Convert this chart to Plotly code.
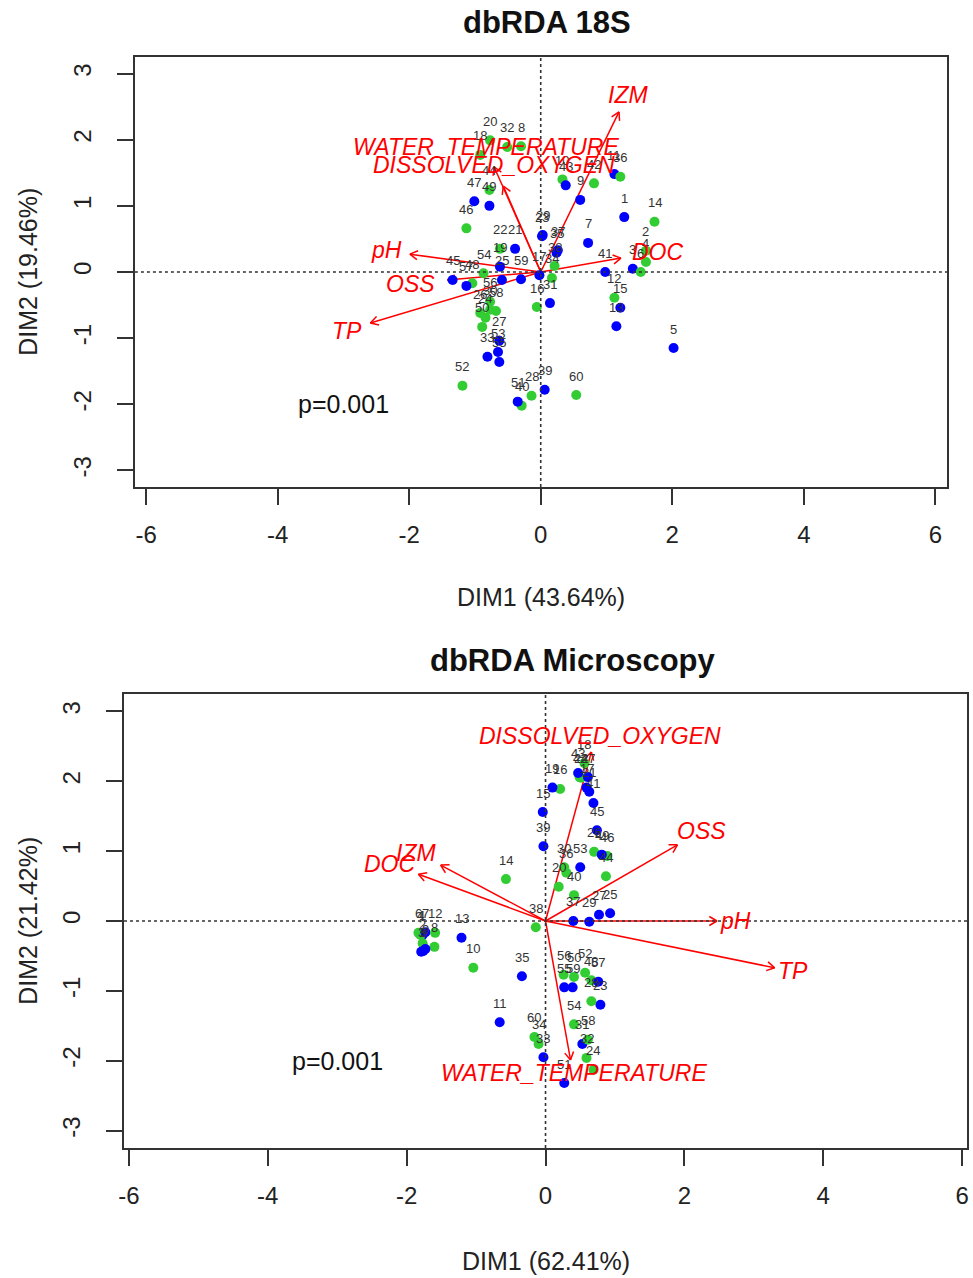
import math
import plotly.graph_objects as go

W, H = 973, 1278

# ---------------- data ----------------
sample_labels = ["1", "2", "3", "4", "5", "6", "7", "8", "9", "10",
                 "11", "12", "13", "14", "15", "16", "17", "18", "19", "20",
                 "21", "22", "23", "24", "25", "26", "27", "28", "29", "30",
                 "31", "32", "33", "34", "35", "36", "37", "38", "39", "40",
                 "41", "42", "43", "44", "45", "46", "47", "48", "49", "50",
                 "51", "52", "53", "54", "55", "56", "57", "58", "59", "60"]
sample_group = ["A", "B", "A", "B", "A", "B", "A", "B", "A", "B",
                "A", "B", "A", "B", "A", "B", "A", "B", "A", "B",
                "A", "B", "A", "B", "A", "B", "A", "B", "A", "B",
                "A", "B", "A", "B", "A", "B", "A", "B", "A", "B",
                "A", "B", "A", "B", "A", "B", "A", "B", "A", "B",
                "A", "B", "A", "B", "A", "B", "A", "B", "A", "B"]

# dbRDA 18S site scores
s18_x = [1.27, 1.60, 1.40, 1.60, 2.02, 1.52, 0.72, -0.30, 0.60, 0.33,
         1.12, 1.12, 1.15, 1.73, 1.21, -0.06, -0.02, -0.92, -0.62, -0.77,
         -0.39, -0.62, 0.02, -0.84, -0.59, -0.92, -0.63, -0.14, 0.03, -0.77,
         0.14, -0.51, -0.81, 0.17, 0.24, 1.21, 0.26, 0.21, 0.06, -0.29,
         0.98, 0.81, 0.38, -0.78, -1.34, -1.13, -1.01, -1.04, -0.78, -0.89,
         -0.35, -1.19, -0.65, -0.87, -0.63, -0.77, -1.13, -0.68, -0.30, 0.54]
s18_y = [0.83, 0.32, 0.05, 0.15, -1.15, 0.00, 0.44, 1.90, 1.09, 1.40,
         1.48, -0.39, -0.82, 0.76, -0.54, -0.53, -0.05, 1.77, 0.08, 1.99,
         0.35, 0.35, 0.54, -0.69, -0.12, -0.62, -1.04, -1.87, 0.56, -0.57,
         -0.47, 1.89, -1.28, -0.09, 0.29, 1.44, 0.33, 0.09, -1.78, -2.02,
         0.00, 1.34, 1.31, 1.24, -0.12, 0.66, 1.07, -0.17, 1.00, -0.83,
         -1.96, -1.72, -1.21, -0.02, -1.36, -0.45, -0.21, -0.59, -0.11, -1.86]

# dbRDA Microscopy site scores
mic_x = [-1.77, -1.77, -1.79, -1.80, -1.76, -1.83, -1.73, -1.60, -1.73, -1.04,
         -0.66, -1.59, -1.21, -0.57, -0.04, 0.21, 0.59, 0.56, 0.10, 0.19,
         0.63, 0.51, 0.79, 0.69, 0.93, 0.70, 0.77, 0.66, 0.63, 0.27,
         0.53, 0.59, -0.03, -0.10, -0.34, 0.30, 0.40, -0.14, -0.03, 0.41,
         0.69, 0.49, 0.47, 0.87, 0.74, 0.89, 0.61, 0.66, 0.81, 0.41,
         0.27, 0.57, 0.50, 0.41, 0.27, 0.26, 0.76, 0.61, 0.39, -0.16]
mic_y = [-0.20, -0.32, -0.44, -0.20, -0.43, -0.17, -0.16, -0.37, -0.40, -0.67,
         -1.45, -0.17, -0.24, 0.60, 1.56, 1.89, 1.91, 2.26, 1.91, 0.49,
         1.85, 2.05, -1.20, -2.13, 0.11, 0.99, 0.09, -1.15, -0.01, 0.77,
         -1.76, -1.96, -1.95, -1.76, -0.79, 0.69, 0.00, -0.09, 1.07, 0.37,
         1.69, 2.06, 2.12, 0.64, 1.30, 0.93, 2.06, -0.85, 0.95, -0.80,
         -2.32, -0.74, 0.77, -1.48, -0.95, -0.77, -0.87, -1.70, -0.95, -1.66]

# environmental arrows
s18_vars = ["IZM", "WATER_TEMPERATURE", "DISSOLVED_OXYGEN", "pH", "OSS", "TP", "DOC"]
s18_arrow_x = [1.19, -0.71, -0.57, -1.99, -1.42, -2.59, 1.22]
s18_arrow_y = [2.42, 1.59, 1.30, 0.27, -0.12, -0.77, 0.21]
s18_label_x = [1.33, -0.83, -0.71, -2.35, -1.98, -2.94, 1.79]
s18_label_y = [2.67, 1.89, 1.62, 0.33, -0.18, -0.89, 0.30]

mic_vars = ["DISSOLVED_OXYGEN", "OSS", "pH", "TP", "WATER_TEMPERATURE", "IZM", "DOC"]
mic_arrow_x = [0.66, 1.90, 2.47, 3.30, 0.36, -1.51, -1.83]
mic_arrow_y = [2.42, 1.09, 0.00, -0.67, -1.99, 0.80, 0.67]
mic_label_x = [0.79, 2.24, 2.74, 3.57, 0.41, -1.86, -2.24]
mic_label_y = [2.65, 1.29, 0.00, -0.72, -2.18, 0.97, 0.82]

tick_vals = [-6, -4, -2, 0, 2, 4, 6]
tick_text = ["-6", "-4", "-2", "0", "2", "4", "6"]
ytick_vals = [-3, -2, -1, 0, 1, 2, 3]
ytick_text = ["-3", "-2", "-1", "0", "1", "2", "3"]

panels = [
    dict(title="dbRDA 18S", xlab="DIM1 (43.64%)", ylab="DIM2 (19.46%)", p="p=0.001",
         x=s18_x, y=s18_y, vars=s18_vars, ax=s18_arrow_x, ay=s18_arrow_y,
         lx=s18_label_x, ly=s18_label_y,
         box=(130, 949, 57, 487), xr=(-6.17, 6.18), yr=(-3.25, 3.25),
         title_pos=(545, 22), xlab_pos=(539, 597), ylab_pos=(22, 272)),
    dict(title="dbRDA Microscopy", xlab="DIM1 (62.41%)", ylab="DIM2 (21.42%)", p="p=0.001",
         x=mic_x, y=mic_y, vars=mic_vars, ax=mic_arrow_x, ay=mic_arrow_y,
         lx=mic_label_x, ly=mic_label_y,
         box=(119, 969, 694, 1148), xr=(-6.07, 6.07), yr=(-3.25, 3.25),
         title_pos=(572, 660), xlab_pos=(544, 1261), ylab_pos=(22, 921)),
]

COL = {"A": "#0000FF", "B": "#32CD32"}
FONT = "Liberation Sans, Arial, Helvetica, sans-serif"
RED = "#FF0000"
AX = "#333333"

fig = go.Figure()
annotations = []
shapes = []

for i, pn in enumerate(panels):
    xa = "x" if i == 0 else "x2"
    ya = "y" if i == 0 else "y2"
    xkey = "xaxis" if i == 0 else "xaxis2"
    ykey = "yaxis" if i == 0 else "yaxis2"
    left, right, top, bottom = pn["box"]
    sx = (right - left) / (pn["xr"][1] - pn["xr"][0])
    sy = (bottom - top) / (pn["yr"][1] - pn["yr"][0])

    fig.update_layout(**{
        xkey: dict(domain=[left / W, right / W], range=list(pn["xr"]), anchor=ya,
                   showline=True, mirror=True, linecolor=AX, linewidth=1.5,
                   ticks="outside", ticklen=16, tickwidth=1.5, tickcolor=AX,
                   tickvals=tick_vals, ticktext=tick_text, showgrid=False, zeroline=False,
                   tickfont=dict(family=FONT, size=24, color="#222"), ticklabelstandoff=9),
        ykey: dict(domain=[1 - bottom / H, 1 - top / H], range=list(pn["yr"]), anchor=xa,
                   showline=True, mirror=True, linecolor=AX, linewidth=1.5,
                   ticks="outside", ticklen=16, tickwidth=1.5, tickcolor=AX,
                   tickvals=ytick_vals, ticktext=ytick_text, tickangle=-90,
                   showgrid=False, zeroline=False,
                   tickfont=dict(family=FONT, size=24, color="#222"), ticklabelstandoff=17),
    })

    # dotted zero lines
    xd = ("x domain" if i == 0 else "x2 domain")
    yd = ("y domain" if i == 0 else "y2 domain")
    shapes.append(dict(type="line", xref=xd, yref=ya, x0=0, x1=1, y0=0, y1=0,
                       line=dict(color=AX, width=1.6, dash="dot")))
    shapes.append(dict(type="line", xref=xa, yref=yd, x0=0, x1=0, y0=0, y1=1,
                       line=dict(color=AX, width=1.6, dash="dot")))

    # arrows (open V heads like R)
    ax_l, ay_l = [], []
    head = 9.0
    for tx, ty in zip(pn["ax"], pn["ay"]):
        ang = math.atan2(ty * sy, tx * sx)
        ax_l += [0, tx, None]
        ay_l += [0, ty, None]
        for d in (math.pi / 6, -math.pi / 6):
            a = ang + math.pi + d
            ax_l += [tx, tx + head * math.cos(a) / sx, None]
            ay_l += [ty, ty + head * math.sin(a) / sy, None]
    fig.add_trace(go.Scatter(x=ax_l, y=ay_l, mode="lines", xaxis=xa, yaxis=ya,
                             line=dict(color=RED, width=1.5), hoverinfo="skip",
                             showlegend=False))

    # points
    fig.add_trace(go.Scatter(x=pn["x"], y=pn["y"], mode="markers", xaxis=xa, yaxis=ya,
                             marker=dict(size=10, color=[COL[g] for g in sample_group],
                                         line=dict(width=0)),
                             text=sample_labels, showlegend=False))

    # point labels above points
    for lab, px, py in zip(sample_labels, pn["x"], pn["y"]):
        annotations.append(dict(x=px, y=py, xref=xa, yref=ya, text=lab, showarrow=False,
                                yshift=19, font=dict(family=FONT, size=13, color="#333")))

    # variable labels
    for v, lx, ly in zip(pn["vars"], pn["lx"], pn["ly"]):
        annotations.append(dict(x=lx, y=ly, xref=xa, yref=ya, text="<i>" + v + "</i>",
                                showarrow=False, xanchor="center", yanchor="middle",
                                font=dict(family=FONT, size=23, color=RED)))

    # p value
    annotations.append(dict(x=-3, y=-2, xref=xa, yref=ya, text=pn["p"], showarrow=False,
                            xanchor="center", yanchor="middle",
                            font=dict(family=FONT, size=25, color="#111")))

    # titles
    tx_, ty_ = pn["title_pos"]
    annotations.append(dict(x=tx_ / W, y=1 - ty_ / H, xref="paper", yref="paper",
                            text="<b>" + pn["title"] + "</b>", showarrow=False,
                            xanchor="center", yanchor="middle",
                            font=dict(family=FONT, size=31, color="#111")))
    lx_, ly_ = pn["xlab_pos"]
    annotations.append(dict(x=lx_ / W, y=1 - ly_ / H, xref="paper", yref="paper",
                            text=pn["xlab"], showarrow=False, xanchor="center", yanchor="middle",
                            font=dict(family=FONT, size=25, color="#222")))
    yx_, yy_ = pn["ylab_pos"]
    annotations.append(dict(x=yx_ / W, y=1 - yy_ / H, xref="paper", yref="paper",
                            text=pn["ylab"], showarrow=False, xanchor="center", yanchor="middle",
                            textangle=-90,
                            font=dict(family=FONT, size=25, color="#222")))

fig.update_layout(width=W, height=H, margin=dict(l=0, r=0, t=0, b=0),
                  paper_bgcolor="white", plot_bgcolor="white",
                  annotations=annotations, shapes=shapes, showlegend=False)

fig.write_html("out.html", config={"displayModeBar": False},
               post_script="document.body.style.margin='0px';document.body.style.overflow='hidden';")
